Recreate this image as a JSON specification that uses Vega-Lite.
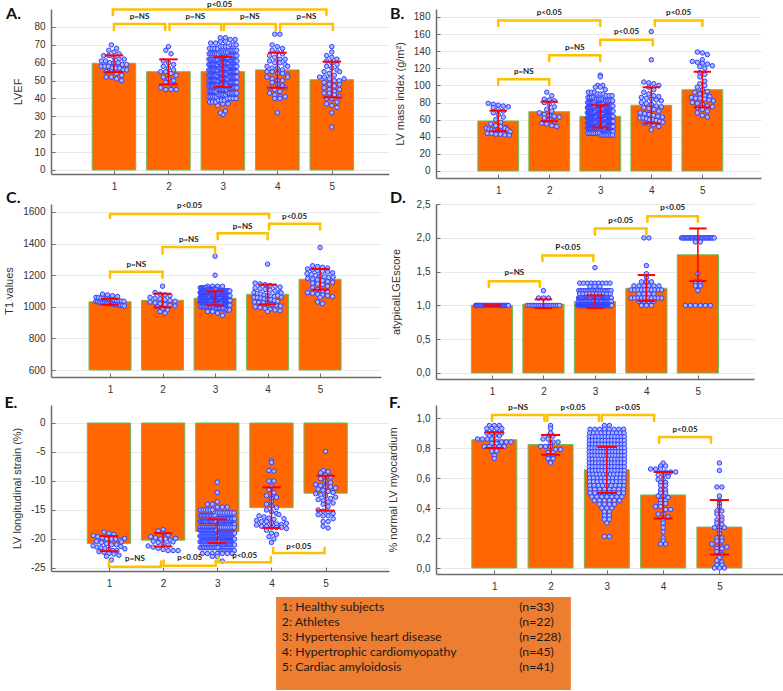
{
"$schema":"https://vega.github.io/schema/vega-lite/v6.json",
"background":"white",
"padding":{"left":3,"top":0,"right":0,"bottom":0},
"columns":2,
"bounds":"flush",
"spacing":{"row":26,"column":47},
"config":{
 "view":{"stroke":null},
 "axis":{"labelFont":"Liberation Sans","labelFontSize":10,"labelColor":"#333333","titleFont":"Liberation Sans","titleFontSize":11,"titleFontWeight":"normal","titleColor":"#333333","domainColor":"#6b6b6b","domainWidth":1.5,"tickColor":"#6b6b6b","tickWidth":1,"tickSize":-4,"labelPadding":10,"gridColor":"#e9e9e9","gridWidth":1,"titlePadding":8},
 "axisX":{"grid":false,"labelPadding":11},
 "axisY":{"grid":true}
},
"datasets":{
"As":[{"g":1,"m":59.7,"lo":54.8,"hi":64.1},{"g":2,"m":55,"lo":47.9,"hi":61.9},{"g":3,"m":55,"lo":46.4,"hi":63.2},{"g":4,"m":56,"lo":46,"hi":65.6},{"g":5,"m":50.5,"lo":40.6,"hi":60.6}],
"Bs":[{"g":1,"m":58.4,"lo":46.5,"hi":70.5},{"g":2,"m":69.3,"lo":58.2,"hi":81},{"g":3,"m":63.9,"lo":50.8,"hi":76.8},{"g":4,"m":76.8,"lo":55.7,"hi":97.8},{"g":5,"m":95,"lo":74.4,"hi":116}],
"Cs":[{"g":1,"m":1032,"lo":1014,"hi":1050},{"g":2,"m":1041,"lo":997,"hi":1083},{"g":3,"m":1054,"lo":1009,"hi":1098},{"g":4,"m":1079,"lo":1016,"hi":1140},{"g":5,"m":1174,"lo":1108,"hi":1239}],
"Ds":[{"g":1,"m":1.0,"lo":1.0,"hi":1.0},{"g":2,"m":1.02,"lo":0.96,"hi":1.09},{"g":3,"m":1.06,"lo":0.96,"hi":1.15},{"g":4,"m":1.255,"lo":1.065,"hi":1.45},{"g":5,"m":1.75,"lo":1.36,"hi":2.14}],
"Es":[{"g":1,"m":-20.8,"lo":-22.1,"hi":-19.5},{"g":2,"m":-20.2,"lo":-21.3,"hi":-19},{"g":3,"m":-18.7,"lo":-20.7,"hi":-16.6},{"g":4,"m":-14.6,"lo":-18.1,"hi":-11.1},{"g":5,"m":-12.1,"lo":-15.1,"hi":-9.1}],
"Fs":[{"g":1,"m":0.855,"lo":0.8,"hi":0.905},{"g":2,"m":0.823,"lo":0.755,"hi":0.887},{"g":3,"m":0.655,"lo":0.5,"hi":0.807},{"g":4,"m":0.487,"lo":0.33,"hi":0.64},{"g":5,"m":0.273,"lo":0.09,"hi":0.453}],
"Ab":[{"xa":1,"xb":1.94,"y":81.7,"yl":78.3,"ty":85.6,"t":"p=NS"},{"xa":2.02,"xb":2.97,"y":81.7,"yl":78.3,"ty":85.6,"t":"p=NS"},{"xa":3.02,"xb":3.97,"y":81.7,"yl":78.3,"ty":85.6,"t":"p=NS"},{"xa":4.05,"xb":5.02,"y":81.7,"yl":78.3,"ty":85.6,"t":"p=NS"},{"xa":0.98,"xb":4.9,"y":89.8,"yl":86.7,"ty":92.5,"t":"p<0.05"}],
"Bb":[{"xa":1,"xb":2,"y":107.2,"yl":100.5,"ty":116,"t":"p=NS"},{"xa":2,"xb":3,"y":135.2,"yl":128.6,"ty":143.8,"t":"p=NS"},{"xa":1,"xb":3,"y":176,"yl":169.5,"ty":184.6,"t":"p<0.05"},{"xa":3,"xb":4.03,"y":153.5,"yl":146.8,"ty":162.5,"t":"p<0.05"},{"xa":4.07,"xb":5,"y":176,"yl":169.5,"ty":184.6,"t":"p<0.05"}],
"Cb":[{"xa":1,"xb":4.03,"y":1587,"yl":1562,"ty":1638,"t":"p<0.05"},{"xa":4.03,"xb":5,"y":1526,"yl":1490,"ty":1570,"t":"p<0.05"},{"xa":3.05,"xb":4,"y":1465,"yl":1427,"ty":1507,"t":"p=NS"},{"xa":2,"xb":3,"y":1378,"yl":1338,"ty":1423,"t":"p=NS"},{"xa":1,"xb":2,"y":1222,"yl":1184,"ty":1262,"t":"p=NS"}],
"Db":[{"xa":0.94,"xb":1.93,"y":1.36,"yl":1.277,"ty":1.475,"t":"p=NS"},{"xa":1.98,"xb":2.97,"y":1.74,"yl":1.657,"ty":1.85,"t":"P<0.05"},{"xa":3,"xb":4,"y":2.14,"yl":2.05,"ty":2.25,"t":"p<0.05"},{"xa":4.02,"xb":5,"y":2.32,"yl":2.24,"ty":2.44,"t":"p<0.05"}],
"Eb":[{"xa":1,"xb":1.96,"y":-24.8,"yl":-23.9,"ty":-23.5,"t":"p=NS"},{"xa":2.01,"xb":2.97,"y":-24.6,"yl":-23.7,"ty":-23.3,"t":"p<0.05"},{"xa":3.02,"xb":3.99,"y":-24,"yl":-23.1,"ty":-22.9,"t":"p<0.05"},{"xa":4.03,"xb":4.98,"y":-22.4,"yl":-21.5,"ty":-21.3,"t":"p<0.05"}],
"Fb":[{"xa":0.96,"xb":1.89,"y":1.02,"yl":0.98,"ty":1.069,"t":"p=NS"},{"xa":1.94,"xb":2.86,"y":1.02,"yl":0.98,"ty":1.069,"t":"p<0.05"},{"xa":2.91,"xb":3.84,"y":1.02,"yl":0.98,"ty":1.069,"t":"p<0.05"},{"xa":3.93,"xb":4.85,"y":0.873,"yl":0.835,"ty":0.92,"t":"p<0.05"}],
"Ap":[
{"g":1,"v":[70,68,67,66,65,64,64,63,62,62,61,61,60,60,60,59,59,58,58,58,57,57,57,56,56,55,55,54,53,52,52,51,50]},
{"g":2,"v":[69,67,65,61,60,59,58,57,56,55,55,54,53,52,51,50,49,48,46,45,45,45]},
{"g":3,"v":[31,32,33,36,37,37,38,38,38,39,39,39,40,40,40,40,41,41,41,41,41,42,42,42,42,42,43,43,43,43,43,43,44,44,44,44,44,44,45,45,45,45,45,45,45,46,46,46,46,46,46,46,47,47,47,47,47,47,47,48,48,48,48,48,48,48,48,49,49,49,49,49,49,49,49,50,50,50,50,50,50,50,50,50,51,51,51,51,51,51,51,51,52,52,52,52,52,52,52,52,53,53,53,53,53,53,53,53,54,54,54,54,54,54,54,54,55,55,55,55,55,55,55,55,55,56,56,56,56,56,56,56,56,57,57,57,57,57,57,57,57,58,58,58,58,58,58,58,58,59,59,59,59,59,59,59,59,60,60,60,60,60,60,60,60,60,61,61,61,61,61,61,61,62,62,62,62,62,62,62,63,63,63,63,63,63,63,64,64,64,64,64,64,65,65,65,65,65,65,66,66,66,66,66,67,67,67,67,67,68,68,68,68,69,69,69,69,70,70,70,71,71,72,72,73,73,74,74]},
{"g":4,"v":[76,76,70,69,68,67,66,65,64,63,62,61,60,60,59,58,57,57,56,55,55,54,54,53,52,51,50,50,49,48,47,46,45,44,43,42,41,41,40,40,46,52,58,62,32]},
{"g":5,"v":[69,66,64,63,62,61,60,59,58,57,56,55,54,53,52,52,51,50,49,48,47,46,45,44,43,43,42,41,40,40,38,37,36,35,32,24,48,50,55,45,51]}],
"Bp":[
{"g":1,"v":[79,78,77,76,75,74,72,70,68,66,63,60,57,55,53,52,51,50,49,48,47,46,45,45,44,44,43,43,42,42,50,48,46]},
{"g":2,"v":[92,88,84,83,82,80,78,75,72,70,68,66,65,64,63,62,60,58,56,55,53,52]},
{"g":3,"v":[112,110,100,100,98,98,95,92,92,92,90,90,90,88,88,88,86,86,86,86,84,84,84,84,84,82,82,82,82,82,82,80,80,80,80,80,80,80,78,78,78,78,78,78,78,76,76,76,76,76,76,76,76,74,74,74,74,74,74,74,74,74,72,72,72,72,72,72,72,72,72,72,70,70,70,70,70,70,70,70,70,70,70,68,68,68,68,68,68,68,68,68,68,68,66,66,66,66,66,66,66,66,66,66,66,64,64,64,64,64,64,64,64,64,64,64,64,64,62,62,62,62,62,62,62,62,62,62,62,62,62,60,60,60,60,60,60,60,60,60,60,60,60,60,58,58,58,58,58,58,58,58,58,58,58,56,56,56,56,56,56,56,56,56,56,56,54,54,54,54,54,54,54,54,54,54,54,52,52,52,52,52,52,52,52,52,52,50,50,50,50,50,50,50,50,50,50,48,48,48,48,48,48,48,48,48,46,46,46,46,46,46,46,46,44,44,44,44,44,44,44,42,42,42,42,42,42,42]},
{"g":4,"v":[163,130,104,103,102,100,98,95,92,90,88,87,86,85,84,83,82,80,79,78,76,75,74,73,72,70,68,67,66,65,64,63,62,62,61,60,60,59,58,57,56,55,54,52,48]},
{"g":5,"v":[139,138,136,130,128,127,126,125,123,122,120,115,113,110,105,102,100,98,95,93,92,90,88,87,86,85,85,84,83,82,80,79,78,76,75,74,72,70,68,65,63]}],
"Cp":[
{"g":1,"v":[1080,1075,1070,1065,1060,1058,1055,1052,1050,1048,1045,1043,1040,1038,1036,1035,1033,1032,1030,1028,1026,1025,1023,1022,1020,1018,1016,1015,1013,1012,1010,1008,1005]},
{"g":2,"v":[1130,1090,1080,1075,1070,1060,1055,1050,1045,1040,1035,1030,1025,1020,1015,1010,1005,1000,990,980,970,960]},
{"g":3,"v":[1320,1200,1130,1130,1130,1130,1120,1120,1120,1120,1120,1120,1120,1120,1110,1110,1110,1110,1110,1110,1110,1110,1110,1110,1110,1110,1100,1100,1100,1100,1100,1100,1100,1100,1100,1100,1100,1100,1100,1100,1100,1090,1090,1090,1090,1090,1090,1090,1090,1090,1090,1090,1090,1090,1090,1090,1090,1090,1080,1080,1080,1080,1080,1080,1080,1080,1080,1080,1080,1080,1080,1080,1080,1080,1080,1080,1080,1070,1070,1070,1070,1070,1070,1070,1070,1070,1070,1070,1070,1070,1070,1070,1070,1070,1070,1070,1070,1060,1060,1060,1060,1060,1060,1060,1060,1060,1060,1060,1060,1060,1060,1060,1060,1060,1060,1060,1060,1050,1050,1050,1050,1050,1050,1050,1050,1050,1050,1050,1050,1050,1050,1050,1050,1050,1050,1050,1050,1040,1040,1040,1040,1040,1040,1040,1040,1040,1040,1040,1040,1040,1040,1040,1040,1040,1040,1040,1030,1030,1030,1030,1030,1030,1030,1030,1030,1030,1030,1030,1030,1030,1030,1030,1030,1030,1020,1020,1020,1020,1020,1020,1020,1020,1020,1020,1020,1020,1020,1020,1020,1020,1010,1010,1010,1010,1010,1010,1010,1010,1010,1010,1010,1010,1010,1000,1000,1000,1000,1000,1000,1000,1000,1000,1000,990,990,990,990,990,990,990,980,980,980,980,970,970,960,945]},
{"g":4,"v":[1270,1150,1145,1140,1135,1130,1125,1120,1115,1110,1105,1100,1095,1090,1085,1080,1075,1070,1068,1065,1060,1058,1055,1050,1048,1045,1040,1035,1030,1028,1025,1020,1015,1010,1005,1000,995,990,985,980,975,970,1062,1072,1088]},
{"g":5,"v":[1375,1260,1255,1250,1245,1240,1235,1230,1225,1220,1215,1210,1205,1200,1195,1190,1185,1180,1175,1170,1165,1160,1155,1150,1145,1140,1130,1120,1110,1100,1095,1090,1085,1080,1075,1070,1065,1060,1030,1020,1188]}],
"Dp":[
{"g":1,"v":[1,1,1,1,1,1,1,1,1,1,1,1,1,1,1,1,1,1,1,1,1,1,1,1,1,1,1,1,1,1,1,1,1]},
{"g":2,"v":[1.22,1.11,1.11,1.11,1,1,1,1,1,1,1,1,1,1,1,1,1,1,1,1,1,1]},
{"g":3,"v":[1.56,1.33,1.33,1.33,1.33,1.33,1.33,1.33,1.33,1.33,1.28,1.28,1.28,1.22,1.22,1.22,1.22,1.22,1.22,1.22,1.22,1.22,1.22,1.22,1.22,1.22,1.22,1.22,1.22,1.22,1.22,1.22,1.22,1.17,1.17,1.17,1.17,1.17,1.17,1.17,1.17,1.17,1.17,1.11,1.11,1.11,1.11,1.11,1.11,1.11,1.11,1.11,1.11,1.11,1.11,1.11,1.11,1.11,1.11,1.11,1.11,1.11,1.11,1.11,1.11,1.11,1.11,1.11,1.11,1.11,1.11,1.11,1.11,1.06,1.06,1.06,1.06,1.06,1.06,1.06,1.06,1.06,1.06,1.06,1.06,1.06,1.06,1.06,1.06,1.06,1.06,1.06,1.06,1.06,1.06,1.06,1.06,1.06,1,1,1,1,1,1,1,1,1,1,1,1,1,1,1,1,1,1,1,1,1,1,1,1,1,1,1,1,1,1,1,1,1,1,1,1,1,1,1,1,1,1,1,1,1,1,1,1,1,1,1,1,1,1,1,1,1,1,1,1,1,1,1,1,1,1,1,1,1,1,1,1,1,1,1,1,1,1,1,1,1,1,1,1,1,1,1,1,1,1,1,1,1,1,1,1,1,1,1,1,1,1,1,1,1,1,1,1,1,1,1,1,1,1,1,1,1,1,1,1,1,1,1,1,1,1,1,1,1,1,1,1,1]},
{"g":4,"v":[2,2,1.59,1.47,1.41,1.35,1.35,1.35,1.29,1.29,1.29,1.29,1.29,1.29,1.23,1.23,1.23,1.23,1.23,1.23,1.23,1.23,1.23,1.23,1.17,1.17,1.17,1.17,1.11,1.11,1.11,1.11,1.11,1.11,1.11,1.11,1.11,1.11,1.06,1.06,1.06,1.06,1,1,1]},
{"g":5,"v":[2,2,2,2,2,2,2,2,2,2,2,2,2,2,2,2,2,2,2,2,2,2,2,2,2,2,2,1.94,1.94,1.47,1.35,1.35,1.29,1.29,1.22,1,1,1,1,1,1]}],
"Ep":[
{"g":1,"v":[-18.8,-19,-19.2,-19.4,-19.6,-19.8,-20,-20,-20,-20.2,-20.4,-20.6,-20.8,-21,-21,-21.2,-21.4,-21.5,-21.6,-21.8,-22,-22,-22.2,-22.3,-22.5,-22.6,-22.8,-23,-21.3,-20.5,-19.9,-23.6,-21.7]},
{"g":2,"v":[-18.4,-18.6,-19,-19.3,-19.6,-19.8,-20,-20,-20.2,-20.4,-20.6,-20.8,-21,-21.2,-21.4,-21.6,-21.8,-22,-22,-22,-19.9,-20.5]},
{"g":3,"v":[-10.2,-12,-13.6,-14,-14,-14.5,-14.5,-14.5,-15,-15,-15,-15,-15,-15,-15.5,-15.5,-15.5,-15.5,-15.5,-15.5,-15.5,-15.5,-15.5,-16,-16,-16,-16,-16,-16,-16,-16,-16,-16,-16,-16.5,-16.5,-16.5,-16.5,-16.5,-16.5,-16.5,-16.5,-16.5,-16.5,-16.5,-16.5,-16.5,-17,-17,-17,-17,-17,-17,-17,-17,-17,-17,-17,-17,-17,-17,-17,-17.5,-17.5,-17.5,-17.5,-17.5,-17.5,-17.5,-17.5,-17.5,-17.5,-17.5,-17.5,-17.5,-17.5,-17.5,-17.5,-18,-18,-18,-18,-18,-18,-18,-18,-18,-18,-18,-18,-18,-18,-18,-18,-18,-18.5,-18.5,-18.5,-18.5,-18.5,-18.5,-18.5,-18.5,-18.5,-18.5,-18.5,-18.5,-18.5,-18.5,-18.5,-18.5,-18.5,-18.5,-19,-19,-19,-19,-19,-19,-19,-19,-19,-19,-19,-19,-19,-19,-19,-19,-19,-19,-19.5,-19.5,-19.5,-19.5,-19.5,-19.5,-19.5,-19.5,-19.5,-19.5,-19.5,-19.5,-19.5,-19.5,-19.5,-19.5,-19.5,-19.5,-20,-20,-20,-20,-20,-20,-20,-20,-20,-20,-20,-20,-20,-20,-20,-20,-20,-20.5,-20.5,-20.5,-20.5,-20.5,-20.5,-20.5,-20.5,-20.5,-20.5,-20.5,-20.5,-20.5,-20.5,-20.5,-20.5,-21,-21,-21,-21,-21,-21,-21,-21,-21,-21,-21,-21,-21,-21,-21.5,-21.5,-21.5,-21.5,-21.5,-21.5,-21.5,-21.5,-21.5,-21.5,-21.5,-21.5,-22,-22,-22,-22,-22,-22,-22,-22,-22,-22,-22.5,-22.5,-22.5,-22.5,-22.5,-22.5,-22.5,-23,-23,-23.8]},
{"g":4,"v":[-6.5,-6.8,-8.2,-8.3,-10,-10,-11,-11.5,-12,-12.5,-13,-13.5,-14,-14.3,-14.6,-15,-15.3,-15.6,-16,-16.2,-16.4,-16.6,-16.8,-17,-17,-17.2,-17.4,-17.5,-17.6,-17.8,-17.8,-18,-18,-18,-18.2,-18.5,-19,-19.2,-19.6,-20,-20.6,-15.8,-16.5,-17.3,-12.8]},
{"g":5,"v":[-4.9,-8.2,-8.4,-8.6,-9,-9.3,-9.6,-10,-10.3,-10.6,-10.8,-11,-11,-11.2,-11.4,-11.6,-11.8,-12,-12.2,-12.4,-12.6,-13,-13.2,-13.4,-13.6,-13.8,-14,-14.4,-15,-15.2,-15.4,-15.6,-15.8,-16,-16,-16.5,-17,-17,-17.8,-18.1,-12.8]}],
"Fp":[
{"g":1,"v":[0.95,0.95,0.95,0.93,0.93,0.93,0.9,0.9,0.9,0.9,0.88,0.88,0.88,0.86,0.86,0.86,0.86,0.84,0.84,0.84,0.84,0.83,0.83,0.81,0.81,0.81,0.81,0.81,0.78,0.78,0.75,0.73,0.93]},
{"g":2,"v":[0.95,0.93,0.9,0.88,0.88,0.86,0.86,0.84,0.83,0.81,0.81,0.81,0.79,0.79,0.77,0.77,0.75,0.75,0.73,0.73,0.7,0.84]},
{"g":3,"v":[0.95,0.95,0.925,0.925,0.925,0.925,0.925,0.925,0.925,0.925,0.9,0.9,0.9,0.9,0.9,0.9,0.9,0.9,0.9,0.9,0.875,0.875,0.875,0.875,0.875,0.875,0.875,0.875,0.875,0.875,0.875,0.875,0.85,0.85,0.85,0.85,0.85,0.85,0.85,0.85,0.85,0.85,0.85,0.85,0.825,0.825,0.825,0.825,0.825,0.825,0.825,0.825,0.825,0.825,0.825,0.825,0.8,0.8,0.8,0.8,0.8,0.8,0.8,0.8,0.8,0.8,0.8,0.8,0.8,0.775,0.775,0.775,0.775,0.775,0.775,0.775,0.775,0.775,0.775,0.775,0.775,0.775,0.75,0.75,0.75,0.75,0.75,0.75,0.75,0.75,0.75,0.75,0.75,0.75,0.75,0.725,0.725,0.725,0.725,0.725,0.725,0.725,0.725,0.725,0.725,0.725,0.725,0.7,0.7,0.7,0.7,0.7,0.7,0.7,0.7,0.7,0.7,0.7,0.7,0.675,0.675,0.675,0.675,0.675,0.675,0.675,0.675,0.675,0.675,0.675,0.675,0.65,0.65,0.65,0.65,0.65,0.65,0.65,0.65,0.65,0.65,0.65,0.65,0.625,0.625,0.625,0.625,0.625,0.625,0.625,0.625,0.625,0.625,0.625,0.6,0.6,0.6,0.6,0.6,0.6,0.6,0.6,0.6,0.6,0.575,0.575,0.575,0.575,0.575,0.575,0.575,0.575,0.575,0.575,0.55,0.55,0.55,0.55,0.55,0.55,0.55,0.55,0.55,0.525,0.525,0.525,0.525,0.525,0.525,0.525,0.525,0.5,0.5,0.5,0.5,0.5,0.5,0.5,0.5,0.475,0.475,0.475,0.475,0.475,0.475,0.475,0.45,0.45,0.45,0.45,0.45,0.45,0.425,0.425,0.425,0.425,0.4,0.4,0.4,0.375,0.375,0.35,0.35,0.325,0.325,0.3,0.21,0.21]},
{"g":4,"v":[0.7,0.68,0.68,0.66,0.66,0.66,0.64,0.64,0.64,0.62,0.62,0.62,0.59,0.59,0.57,0.57,0.55,0.55,0.52,0.52,0.5,0.5,0.48,0.48,0.45,0.45,0.43,0.43,0.41,0.41,0.39,0.39,0.36,0.36,0.34,0.32,0.3,0.27,0.24,0.2,0.18,0.16,0.16,0.61,0.47]},
{"g":5,"v":[0.7,0.65,0.54,0.54,0.48,0.45,0.43,0.41,0.38,0.36,0.34,0.32,0.3,0.29,0.27,0.27,0.27,0.25,0.23,0.2,0.18,0.16,0.14,0.14,0.14,0.13,0.13,0.11,0.09,0.07,0.05,0.04,0.02,0.02,0,0,0,0.2,0.32,0.38,0.18]}],
"Lg":[{"i":1,"a":"1: Healthy subjects","n":"(n=33)"},{"i":2,"a":"2: Athletes","n":"(n=22)"},{"i":3,"a":"3: Hypertensive heart disease","n":"(n=228)"},{"i":4,"a":"4: Hypertrophic cardiomyopathy","n":"(n=45)"},{"i":5,"a":"5: Cardiac amyloidosis","n":"(n=41)"}]
},
"concat":[
{"width":338,"height":165,
 "encoding":{
  "x":{"field":"x","type":"quantitative","scale":{"domain":[-0.156,6.05],"nice":false,"zero":false},"axis":{"values":[1,2,3,4,5],"format":"d","title":null}},
  "y":{"field":"y","type":"quantitative","scale":{"domain":[-2.24,90.07],"nice":false,"zero":false},"axis":{"values":[0,10,20,30,40,50,60,70,80],"labelExpr":"''+datum.value","title":"LVEF","titlePadding":10}}},
 "layer":[
  {"data":{"name":"As"},"transform":[{"calculate":"datum.g-0.4","as":"x"},{"calculate":"datum.g+0.4","as":"xe"},{"calculate":"datum.m","as":"y"}],"mark":{"type":"rect","fill":"#ff6600","stroke":"#6dbd5e","strokeWidth":1},"encoding":{"x2":{"field":"xe"},"y2":{"datum":0}}},
  {"data":{"name":"Ap"},"transform":[{"flatten":["v"]},{"calculate":"round(datum.v/3)","as":"b"},{"window":[{"op":"row_number","as":"r"},{"op":"count","as":"n"}],"groupby":["g","b"],"frame":[null,null]},{"calculate":"datum.g+(datum.r-(datum.n+1)/2)*min(0.095,0.54/datum.n)","as":"x"},{"calculate":"datum.v","as":"y"}],"mark":{"type":"circle","size":20,"fill":"#aab6ff","stroke":"#2f3fff","strokeWidth":1,"opacity":1}},
  {"data":{"name":"As"},"transform":[{"calculate":"datum.g","as":"x"},{"calculate":"datum.lo","as":"y"}],"mark":{"type":"rule","color":"#ff0000","strokeWidth":1.5},"encoding":{"y2":{"field":"hi"}}},
  {"data":{"name":"As"},"transform":[{"fold":["lo","hi"],"as":["k","y"]},{"calculate":"datum.g-0.17","as":"x"},{"calculate":"datum.g+0.17","as":"xe"}],"mark":{"type":"rule","color":"#ff0000","strokeWidth":2},"encoding":{"x2":{"field":"xe"}}},
  {"data":{"name":"Ab"},"transform":[{"calculate":"datum.xa","as":"x"}],"mark":{"type":"rule","color":"#ffc000","strokeWidth":2.5,"strokeCap":"round"},"encoding":{"x2":{"field":"xb"}}},
  {"data":{"name":"Ab"},"transform":[{"fold":["xa","xb"],"as":["k","x"]}],"mark":{"type":"rule","color":"#ffc000","strokeWidth":2.5,"strokeCap":"round"},"encoding":{"y2":{"field":"yl"}}},
  {"data":{"name":"Ab"},"transform":[{"calculate":"(datum.xa+datum.xb)/2","as":"x"},{"calculate":"datum.ty","as":"y"}],"mark":{"type":"text","font":"Lato","fontWeight":"bold","fontSize":8,"color":"#222222","baseline":"middle"},"encoding":{"text":{"field":"t"}}},
  {"data":{"values":[{"t":"A.","x":-0.98,"y":87.55}]},"mark":{"type":"text","font":"Lato","fontWeight":"bold","fontSize":16,"align":"left","baseline":"middle","color":"#111111"},"encoding":{"text":{"field":"t"}}}
 ]},
{"width":325,"height":169,
 "encoding":{
  "x":{"field":"x","type":"quantitative","scale":{"domain":[-0.22,6.15],"nice":false,"zero":false},"axis":{"values":[1,2,3,4,5],"format":"d","title":null}},
  "y":{"field":"y","type":"quantitative","scale":{"domain":[-8.18,189.3],"nice":false,"zero":false},"axis":{"values":[0,20,40,60,80,100,120,140,160,180],"labelExpr":"''+datum.value","title":"LV mass index (g/m²)"}}},
 "layer":[
  {"data":{"name":"Bs"},"transform":[{"calculate":"datum.g-0.4","as":"x"},{"calculate":"datum.g+0.4","as":"xe"},{"calculate":"datum.m","as":"y"}],"mark":{"type":"rect","fill":"#ff6600","stroke":"#6dbd5e","strokeWidth":1},"encoding":{"x2":{"field":"xe"},"y2":{"datum":0}}},
  {"data":{"name":"Bp"},"transform":[{"flatten":["v"]},{"calculate":"round(datum.v/6)","as":"b"},{"window":[{"op":"row_number","as":"r"},{"op":"count","as":"n"}],"groupby":["g","b"],"frame":[null,null]},{"calculate":"datum.g+(datum.r-(datum.n+1)/2)*min(0.098,0.52/datum.n)","as":"x"},{"calculate":"datum.v","as":"y"}],"mark":{"type":"circle","size":20,"fill":"#aab6ff","stroke":"#2f3fff","strokeWidth":1,"opacity":1}},
  {"data":{"name":"Bs"},"transform":[{"calculate":"datum.g","as":"x"},{"calculate":"datum.lo","as":"y"}],"mark":{"type":"rule","color":"#ff0000","strokeWidth":1.5},"encoding":{"y2":{"field":"hi"}}},
  {"data":{"name":"Bs"},"transform":[{"fold":["lo","hi"],"as":["k","y"]},{"calculate":"datum.g-0.17","as":"x"},{"calculate":"datum.g+0.17","as":"xe"}],"mark":{"type":"rule","color":"#ff0000","strokeWidth":2},"encoding":{"x2":{"field":"xe"}}},
  {"data":{"name":"Bb"},"transform":[{"calculate":"datum.xa","as":"x"}],"mark":{"type":"rule","color":"#ffc000","strokeWidth":2.5,"strokeCap":"round"},"encoding":{"x2":{"field":"xb"}}},
  {"data":{"name":"Bb"},"transform":[{"fold":["xa","xb"],"as":["k","x"]}],"mark":{"type":"rule","color":"#ffc000","strokeWidth":2.5,"strokeCap":"round"},"encoding":{"y2":{"field":"yl"}}},
  {"data":{"name":"Bb"},"transform":[{"calculate":"(datum.xa+datum.xb)/2","as":"x"},{"calculate":"datum.ty","as":"y"}],"mark":{"type":"text","font":"Lato","fontWeight":"bold","fontSize":8,"color":"#222222","baseline":"middle"},"encoding":{"text":{"field":"t"}}},
  {"data":{"values":[{"t":"B.","x":-1.12,"y":183.5}]},"mark":{"type":"text","font":"Lato","fontWeight":"bold","fontSize":16,"align":"left","baseline":"middle","color":"#111111"},"encoding":{"text":{"field":"t"}}}
 ]},
{"width":330,"height":173,
 "encoding":{
  "x":{"field":"x","type":"quantitative","scale":{"domain":[-0.124,6.16],"nice":false,"zero":false},"axis":{"values":[1,2,3,4,5],"format":"d","title":null}},
  "y":{"field":"y","type":"quantitative","scale":{"domain":[555.7,1650.6],"nice":false,"zero":false},"axis":{"values":[600,800,1000,1200,1400,1600],"labelExpr":"''+datum.value","title":"T1 values"}}},
 "layer":[
  {"data":{"name":"Cs"},"transform":[{"calculate":"datum.g-0.4","as":"x"},{"calculate":"datum.g+0.4","as":"xe"},{"calculate":"datum.m","as":"y"}],"mark":{"type":"rect","fill":"#ff6600","stroke":"#6dbd5e","strokeWidth":1},"encoding":{"x2":{"field":"xe"},"y2":{"datum":600}}},
  {"data":{"name":"Cp"},"transform":[{"flatten":["v"]},{"calculate":"round(datum.v/30)","as":"b"},{"window":[{"op":"row_number","as":"r"},{"op":"count","as":"n"}],"groupby":["g","b"],"frame":[null,null]},{"calculate":"datum.g+(datum.r-(datum.n+1)/2)*min(0.095,0.58/datum.n)","as":"x"},{"calculate":"datum.v","as":"y"}],"mark":{"type":"circle","size":20,"fill":"#aab6ff","stroke":"#2f3fff","strokeWidth":1,"opacity":1}},
  {"data":{"name":"Cs"},"transform":[{"calculate":"datum.g","as":"x"},{"calculate":"datum.lo","as":"y"}],"mark":{"type":"rule","color":"#ff0000","strokeWidth":1.5},"encoding":{"y2":{"field":"hi"}}},
  {"data":{"name":"Cs"},"transform":[{"fold":["lo","hi"],"as":["k","y"]},{"calculate":"datum.g-0.17","as":"x"},{"calculate":"datum.g+0.17","as":"xe"}],"mark":{"type":"rule","color":"#ff0000","strokeWidth":2},"encoding":{"x2":{"field":"xe"}}},
  {"data":{"name":"Cb"},"transform":[{"calculate":"datum.xa","as":"x"}],"mark":{"type":"rule","color":"#ffc000","strokeWidth":2.5,"strokeCap":"round"},"encoding":{"x2":{"field":"xb"}}},
  {"data":{"name":"Cb"},"transform":[{"fold":["xa","xb"],"as":["k","x"]}],"mark":{"type":"rule","color":"#ffc000","strokeWidth":2.5,"strokeCap":"round"},"encoding":{"y2":{"field":"yl"}}},
  {"data":{"name":"Cb"},"transform":[{"calculate":"(datum.xa+datum.xb)/2","as":"x"},{"calculate":"datum.ty","as":"y"}],"mark":{"type":"text","font":"Lato","fontWeight":"bold","fontSize":8,"color":"#222222","baseline":"middle"},"encoding":{"text":{"field":"t"}}},
  {"data":{"values":[{"t":"C.","x":-0.98,"y":1688}]},"mark":{"type":"text","font":"Lato","fontWeight":"bold","fontSize":16,"align":"left","baseline":"middle","color":"#111111"},"encoding":{"text":{"field":"t"}}}
 ]},
{"width":318,"height":175,
 "encoding":{
  "x":{"field":"x","type":"quantitative","scale":{"domain":[-0.087,6.09],"nice":false,"zero":false},"axis":{"values":[1,2,3,4,5],"format":"d","title":null}},
  "y":{"field":"y","type":"quantitative","scale":{"domain":[-0.089,2.502],"nice":false,"zero":false},"axis":{"values":[0,0.5,1,1.5,2,2.5],"labelExpr":"replace(format(datum.value,'.1f'),'.',',')","title":"atypicalLGEscore","titlePadding":15}}},
 "layer":[
  {"data":{"name":"Ds"},"transform":[{"calculate":"datum.g-0.4","as":"x"},{"calculate":"datum.g+0.4","as":"xe"},{"calculate":"datum.m","as":"y"}],"mark":{"type":"rect","fill":"#ff6600","stroke":"#6dbd5e","strokeWidth":1},"encoding":{"x2":{"field":"xe"},"y2":{"datum":0}}},
  {"data":{"name":"Dp"},"transform":[{"flatten":["v"]},{"calculate":"round(datum.v/0.05)","as":"b"},{"window":[{"op":"row_number","as":"r"},{"op":"count","as":"n"}],"groupby":["g","b"],"frame":[null,null]},{"calculate":"datum.g+(datum.r-(datum.n+1)/2)*min(0.097,0.66/datum.n)","as":"x"},{"calculate":"datum.v","as":"y"}],"mark":{"type":"circle","size":20,"fill":"#aab6ff","stroke":"#2f3fff","strokeWidth":1,"opacity":1}},
  {"data":{"name":"Ds"},"transform":[{"calculate":"datum.g","as":"x"},{"calculate":"datum.lo","as":"y"}],"mark":{"type":"rule","color":"#ff0000","strokeWidth":1.5},"encoding":{"y2":{"field":"hi"}}},
  {"data":{"name":"Ds"},"transform":[{"fold":["lo","hi"],"as":["k","y"]},{"calculate":"datum.g-0.17","as":"x"},{"calculate":"datum.g+0.17","as":"xe"}],"mark":{"type":"rule","color":"#ff0000","strokeWidth":2},"encoding":{"x2":{"field":"xe"}}},
  {"data":{"name":"Db"},"transform":[{"calculate":"datum.xa","as":"x"}],"mark":{"type":"rule","color":"#ffc000","strokeWidth":2.5,"strokeCap":"round"},"encoding":{"x2":{"field":"xb"}}},
  {"data":{"name":"Db"},"transform":[{"fold":["xa","xb"],"as":["k","x"]}],"mark":{"type":"rule","color":"#ffc000","strokeWidth":2.5,"strokeCap":"round"},"encoding":{"y2":{"field":"yl"}}},
  {"data":{"name":"Db"},"transform":[{"calculate":"(datum.xa+datum.xb)/2","as":"x"},{"calculate":"datum.ty","as":"y"}],"mark":{"type":"text","font":"Lato","fontWeight":"bold","fontSize":8,"color":"#222222","baseline":"middle"},"encoding":{"text":{"field":"t"}}},
  {"data":{"values":[{"t":"D.","x":-0.98,"y":2.589}]},"mark":{"type":"text","font":"Lato","fontWeight":"bold","fontSize":16,"align":"left","baseline":"middle","color":"#111111"},"encoding":{"text":{"field":"t"}}}
 ]},
{"width":338,"height":166,
 "encoding":{
  "x":{"field":"x","type":"quantitative","scale":{"domain":[-0.07,6.17],"nice":false,"zero":false},"axis":{"values":[1,2,3,4,5],"format":"d","title":null}},
  "y":{"field":"y","type":"quantitative","scale":{"domain":[-25.52,3.1],"nice":false,"zero":false},"axis":{"values":[0,-5,-10,-15,-20,-25],"labelExpr":"''+datum.value","title":"LV longitudinal strain (%)"}}},
 "layer":[
  {"data":{"name":"Es"},"transform":[{"calculate":"datum.g-0.4","as":"x"},{"calculate":"datum.g+0.4","as":"xe"},{"calculate":"datum.m","as":"y"}],"mark":{"type":"rect","fill":"#ff6600","stroke":"#6dbd5e","strokeWidth":1},"encoding":{"x2":{"field":"xe"},"y2":{"datum":0}}},
  {"data":{"name":"Ep"},"transform":[{"flatten":["v"]},{"calculate":"round(datum.v/0.9)","as":"b"},{"window":[{"op":"row_number","as":"r"},{"op":"count","as":"n"}],"groupby":["g","b"],"frame":[null,null]},{"calculate":"datum.g+(datum.r-(datum.n+1)/2)*min(0.092,0.66/datum.n)","as":"x"},{"calculate":"datum.v","as":"y"}],"mark":{"type":"circle","size":20,"fill":"#aab6ff","stroke":"#2f3fff","strokeWidth":1,"opacity":1}},
  {"data":{"name":"Es"},"transform":[{"calculate":"datum.g","as":"x"},{"calculate":"datum.lo","as":"y"}],"mark":{"type":"rule","color":"#ff0000","strokeWidth":1.5},"encoding":{"y2":{"field":"hi"}}},
  {"data":{"name":"Es"},"transform":[{"fold":["lo","hi"],"as":["k","y"]},{"calculate":"datum.g-0.17","as":"x"},{"calculate":"datum.g+0.17","as":"xe"}],"mark":{"type":"rule","color":"#ff0000","strokeWidth":2},"encoding":{"x2":{"field":"xe"}}},
  {"data":{"name":"Eb"},"transform":[{"calculate":"datum.xa","as":"x"}],"mark":{"type":"rule","color":"#ffc000","strokeWidth":2.5,"strokeCap":"round"},"encoding":{"x2":{"field":"xb"}}},
  {"data":{"name":"Eb"},"transform":[{"fold":["xa","xb"],"as":["k","x"]}],"mark":{"type":"rule","color":"#ffc000","strokeWidth":2.5,"strokeCap":"round"},"encoding":{"y2":{"field":"yl"}}},
  {"data":{"name":"Eb"},"transform":[{"calculate":"(datum.xa+datum.xb)/2","as":"x"},{"calculate":"datum.ty","as":"y"}],"mark":{"type":"text","font":"Lato","fontWeight":"bold","fontSize":8,"color":"#222222","baseline":"middle"},"encoding":{"text":{"field":"t"}}},
  {"data":{"values":[{"t":"E.","x":-0.93,"y":3.36}]},"mark":{"type":"text","font":"Lato","fontWeight":"bold","fontSize":16,"align":"left","baseline":"middle","color":"#111111"},"encoding":{"text":{"field":"t"}}}
 ]},
{"width":347,"height":169,
 "encoding":{
  "x":{"field":"x","type":"quantitative","scale":{"domain":[-0.036,6.13],"nice":false,"zero":false},"axis":{"values":[1,2,3,4,5],"format":"d","title":null}},
  "y":{"field":"y","type":"quantitative","scale":{"domain":[-0.04,1.0867],"nice":false,"zero":false},"axis":{"values":[0,0.2,0.4,0.6,0.8,1],"labelExpr":"replace(format(datum.value,'.1f'),'.',',')","title":"% normal LV myocardium","titlePadding":18}}},
 "layer":[
  {"data":{"name":"Fs"},"transform":[{"calculate":"datum.g-0.4","as":"x"},{"calculate":"datum.g+0.4","as":"xe"},{"calculate":"datum.m","as":"y"}],"mark":{"type":"rect","fill":"#ff6600","stroke":"#6dbd5e","strokeWidth":1},"encoding":{"x2":{"field":"xe"},"y2":{"datum":0}}},
  {"data":{"name":"Fp"},"transform":[{"flatten":["v"]},{"calculate":"round(datum.v/0.025)","as":"b"},{"window":[{"op":"row_number","as":"r"},{"op":"count","as":"n"}],"groupby":["g","b"],"frame":[null,null]},{"calculate":"datum.g+(datum.r-(datum.n+1)/2)*min(0.089,0.68/datum.n)","as":"x"},{"calculate":"datum.v","as":"y"}],"mark":{"type":"circle","size":20,"fill":"#aab6ff","stroke":"#2f3fff","strokeWidth":1,"opacity":1}},
  {"data":{"name":"Fs"},"transform":[{"calculate":"datum.g","as":"x"},{"calculate":"datum.lo","as":"y"}],"mark":{"type":"rule","color":"#ff0000","strokeWidth":1.5},"encoding":{"y2":{"field":"hi"}}},
  {"data":{"name":"Fs"},"transform":[{"fold":["lo","hi"],"as":["k","y"]},{"calculate":"datum.g-0.17","as":"x"},{"calculate":"datum.g+0.17","as":"xe"}],"mark":{"type":"rule","color":"#ff0000","strokeWidth":2},"encoding":{"x2":{"field":"xe"}}},
  {"data":{"name":"Fb"},"transform":[{"calculate":"datum.xa","as":"x"}],"mark":{"type":"rule","color":"#ffc000","strokeWidth":2.5,"strokeCap":"round"},"encoding":{"x2":{"field":"xb"}}},
  {"data":{"name":"Fb"},"transform":[{"fold":["xa","xb"],"as":["k","x"]}],"mark":{"type":"rule","color":"#ffc000","strokeWidth":2.5,"strokeCap":"round"},"encoding":{"y2":{"field":"yl"}}},
  {"data":{"name":"Fb"},"transform":[{"calculate":"(datum.xa+datum.xb)/2","as":"x"},{"calculate":"datum.ty","as":"y"}],"mark":{"type":"text","font":"Lato","fontWeight":"bold","fontSize":8,"color":"#222222","baseline":"middle"},"encoding":{"text":{"field":"t"}}},
  {"data":{"values":[{"t":"F.","x":-0.87,"y":1.103}]},"mark":{"type":"text","font":"Lato","fontWeight":"bold","fontSize":16,"align":"left","baseline":"middle","color":"#111111"},"encoding":{"text":{"field":"t"}}}
 ]},
{"width":338,"height":93,
 "layer":[
  {"data":{"values":[{"k":1}]},"mark":{"type":"rect","fill":"#ed7d31"},
   "encoding":{"x":{"datum":0.666,"type":"quantitative","scale":{"domain":[0,1],"nice":false,"zero":false},"axis":null},"x2":{"datum":1.538},"y":{"datum":0.333,"type":"quantitative","scale":{"domain":[0.533,6.733],"nice":false,"zero":false,"reverse":true},"axis":null},"y2":{"datum":6.53}}},
  {"data":{"name":"Lg"},"mark":{"type":"text","align":"left","baseline":"middle","font":"Lato","fontSize":12.3,"color":"#1a1a1a"},
   "encoding":{"x":{"datum":0.683,"type":"quantitative","axis":null},"y":{"field":"i","type":"quantitative","axis":null},"text":{"field":"a"}}},
  {"data":{"name":"Lg"},"mark":{"type":"text","align":"left","baseline":"middle","font":"Lato","fontSize":12.3,"color":"#1a1a1a"},
   "encoding":{"x":{"datum":1.385,"type":"quantitative","axis":null},"y":{"field":"i","type":"quantitative","axis":null},"text":{"field":"n"}}}
 ]}
]
}
